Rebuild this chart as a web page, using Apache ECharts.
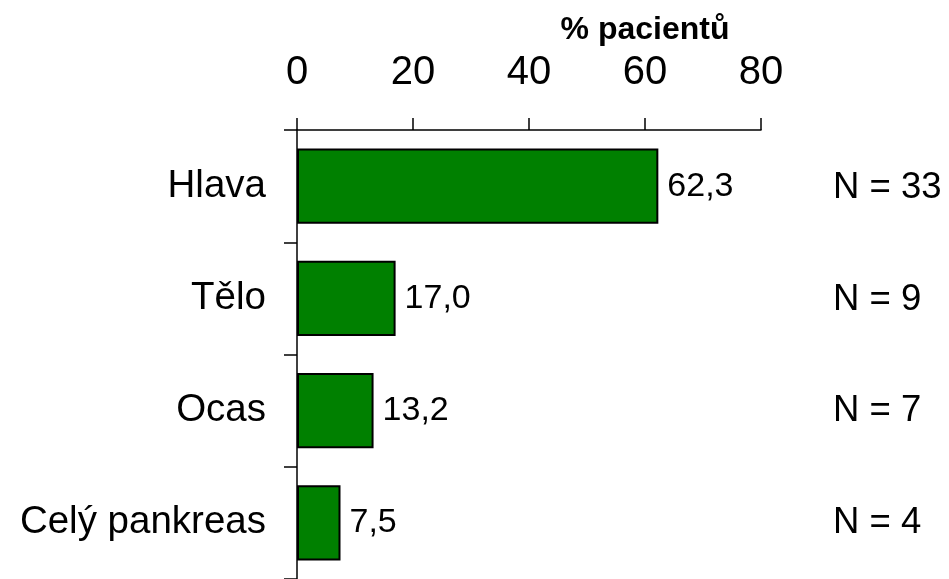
<!DOCTYPE html>
<html>
<head>
<meta charset="utf-8">
<script src="https://cdn.jsdelivr.net/npm/echarts@6/dist/echarts.min.js"></script>
<style>
  html, body { margin: 0; padding: 0; background: #fff; }
  #chart { width: 949px; height: 579px; }
</style>
</head>
<body>
<div id="chart"></div>
<script>
    // data
    const categories = ['Hlava', 'Tělo', 'Ocas', 'Celý pankreas'];
    const percents = [62.3, 17.0, 13.2, 7.5];
    const counts = [33, 9, 7, 4];
    const xTicks = [0, 20, 40, 60, 80];

    const font = 'Liberation Sans, Arial, sans-serif';
    const nLabels = counts.map(function (n) { return 'N = ' + n; });

    const option = {
        animation: false,
        backgroundColor: '#fff',
        textStyle: { fontFamily: font, color: '#000' },
        grid: [
            { left: 297, top: 130, width: 464, height: 453, containLabel: false },
            // second grid only to place the N labels on the right
            { left: 297, top: 132, width: 464, height: 466, containLabel: false }
        ],
        xAxis: [{
            gridIndex: 0,
            type: 'value',
            position: 'top',
            min: xTicks[0],
            max: xTicks[xTicks.length - 1],
            interval: 20,
            axisLine: { show: true, lineStyle: { color: '#000', width: 1.5 } },
            axisTick: { show: true, length: 12, lineStyle: { color: '#000', width: 1.5 } },
            axisLabel: { margin: 37, fontSize: 40, color: '#000', fontFamily: font },
            splitLine: { show: false }
        }, {
            gridIndex: 1,
            type: 'value',
            show: false,
            min: 0,
            max: 80
        }],
        yAxis: [{
            gridIndex: 0,
            type: 'category',
            inverse: true,
            data: categories,
            axisLine: { show: true, lineStyle: { color: '#000', width: 1.5 } },
            axisTick: { show: true, length: 13, lineStyle: { color: '#000', width: 1.5 } },
            axisLabel: { margin: 31, fontSize: 38.5, color: '#000', fontFamily: font }
        }, {
            gridIndex: 1,
            type: 'category',
            position: 'right',
            inverse: true,
            data: nLabels,
            axisLine: { show: false },
            axisTick: { show: false },
            axisLabel: { margin: 72, fontSize: 36.5, color: '#000', fontFamily: font, align: 'left' }
        }],
        graphic: [{
            type: 'text',
            x: 645,
            y: 30,
            style: {
                text: '% pacientů',
                fontSize: 32,
                fontWeight: 'bold',
                fontFamily: font,
                fill: '#000',
                align: 'center',
                verticalAlign: 'middle'
            }
        }],
        series: [{
            type: 'bar',
            xAxisIndex: 0,
            yAxisIndex: 0,
            data: percents,
            barWidth: '67%',
            itemStyle: { color: '#008000', borderColor: '#000', borderWidth: 2 },
            label: {
                show: true,
                position: 'right',
                distance: 9,
                fontSize: 34,
                color: '#000',
                fontFamily: font,
                formatter: function (p) { return p.value.toFixed(1).replace('.', ','); }
            }
        }]
    };

    const chart = echarts.init(document.getElementById('chart'));
    chart.setOption(option);
</script>
</body>
</html>
